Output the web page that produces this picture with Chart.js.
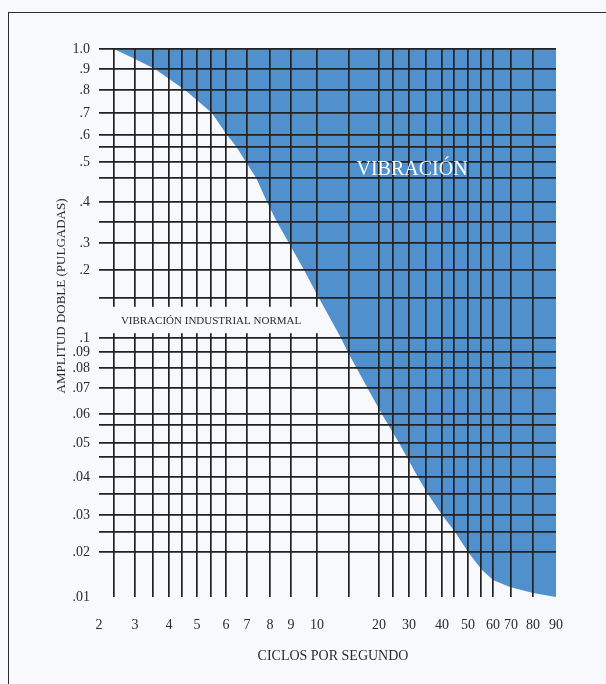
<!DOCTYPE html>
<html lang="es">
<head>
<meta charset="utf-8">
<script src="https://cdn.jsdelivr.net/npm/chart.js@4/dist/chart.umd.min.js"></script>
<style>
  html, body { margin: 0; padding: 0; background: #f8f9fc; overflow: hidden; }
  #marco { position: absolute; left: 8px; top: 12px; width: 700px; height: 800px; border: 1.5px solid #2d2d2d; }
  #caja { position: absolute; left: 0; top: 0; width: 606px; height: 684px; }
</style>
</head>
<body>
<div id="marco"></div>
<div id="caja"><canvas id="grafico"></canvas></div>
<script>
// borde de la zona de vibración (ciclos por segundo / amplitud doble en pulgadas)
const ciclos = [2.5, 3, 3.56, 4.6, 5.53, 6.05, 6.5, 6.95, 7.4, 7.87, 8.33, 8.9, 9.5, 10.3, 13.75, 14.8, 21, 26.9, 32.6, 35.6, 40, 45.4, 50, 55.4, 60, 69.4, 80, 90];
const amplitud = [1.0, 0.95, 0.9, 0.8, 0.7, 0.6, 0.55, 0.5, 0.45, 0.4, 0.35, 0.3, 0.2, 0.15, 0.1, 0.09, 0.06, 0.05, 0.04, 0.035, 0.03, 0.025, 0.02, 0.016, 0.0138, 0.0122, 0.0109, 0.01];

// líneas de la rejilla y las que llevan número
const lineasX = [2, 2.5, 3, 3.5, 4, 4.5, 5, 5.5, 6, 7, 8, 9, 10, 15, 20, 25, 30, 35, 40, 45, 50, 55, 60, 70, 80, 90];
const etiquetasX = [2, 3, 4, 5, 6, 7, 8, 9, 10, 20, 30, 40, 50, 60, 70, 80, 90];
const lineasY = [0.01, 0.02, 0.025, 0.03, 0.035, 0.04, 0.045, 0.05, 0.055, 0.06, 0.07, 0.08, 0.09, 0.1, 0.15, 0.2, 0.3, 0.35, 0.4, 0.45, 0.5, 0.55, 0.6, 0.7, 0.8, 0.9, 1.0];
const etiquetasY = [0.01, 0.02, 0.03, 0.04, 0.05, 0.06, 0.07, 0.08, 0.09, 0.1, 0.2, 0.3, 0.4, 0.5, 0.6, 0.7, 0.8, 0.9, 1.0];

// separación de las líneas en el papel impreso (no es logarítmica exacta)
const separacion = {
    x: [0, 15, 36, 54, 70, 83, 98, 112, 127, 148, 171, 192, 218, 250, 280, 294, 310, 327, 343, 355, 369, 382, 394, 412, 434, 457],
    y: [0, 45, 65, 82, 103, 120, 140, 154, 172, 183, 209, 229, 245, 259, 299, 327, 354, 375, 395, 419, 435, 450, 462, 484, 507, 528, 548]
};
const lineas = { x: lineasX, y: lineasY };

class EscalaRejilla extends Chart.LinearScale {
    static id = "rejilla";
    static defaults = Chart.LinearScale.defaults;

    fraccion(v) {
        const vals = lineas[this.axis], pos = separacion[this.axis];
        const total = pos[pos.length - 1];
        if (v <= vals[0]) return 0;
        for (let i = 1; i < vals.length; i++) {
            if (v <= vals[i]) {
                const t = (v - vals[i - 1]) / (vals[i] - vals[i - 1]);
                return (pos[i - 1] + t * (pos[i] - pos[i - 1])) / total;
            }
        }
        return 1;
    }

    getPixelForValue(value) {
        if (value === null || isNaN(value)) return NaN;
        return this.getPixelForDecimal(this.fraccion(value));
    }

    getValueForPixel(pixel) {
        const d = this.getDecimalForPixel(pixel);
        const vals = lineas[this.axis], pos = separacion[this.axis];
        const p = d * pos[pos.length - 1];
        for (let i = 1; i < pos.length; i++) {
            if (p <= pos[i]) {
                const t = (p - pos[i - 1]) / (pos[i] - pos[i - 1]);
                return vals[i - 1] + t * (vals[i] - vals[i - 1]);
            }
        }
        return vals[vals.length - 1];
    }
}
Chart.register(EscalaRejilla);

const tinta = "#222222";
const fuente = "\"Liberation Serif\", serif";

const rotulos = {
    id: "rotulos",
    afterDraw(chart) {
        const { ctx, scales: { x, y } } = chart;
        ctx.save();

        // recuadro de vibración normal
        const bx0 = x.getPixelForValue(2.43), bx1 = x.getPixelForValue(10.47);
        const by0 = y.getPixelForValue(0.139), by1 = y.getPixelForValue(0.106);
        ctx.fillStyle = "#f8f9fc";
        ctx.fillRect(bx0, by0, bx1 - bx0, by1 - by0);
        ctx.fillStyle = "#2b2b2b";
        ctx.font = "11px " + fuente;
        ctx.textAlign = "left";
        ctx.textBaseline = "middle";
        ctx.fillText("VIBRACIÓN INDUSTRIAL NORMAL", bx0 + 9, (by0 + by1) / 2 + 1);

        ctx.fillStyle = "#ffffff";
        ctx.font = "20px " + fuente;
        ctx.textAlign = "center";
        ctx.fillText("VIBRACIÓN", x.getPixelForValue(30.9), y.getPixelForValue(0.475));

        // títulos de los ejes
        ctx.fillStyle = "#2b2b2b";
        ctx.font = "14px " + fuente;
        ctx.fillText("CICLOS POR SEGUNDO", 333, 656);
        ctx.translate(62, 296);
        ctx.rotate(-Math.PI / 2);
        ctx.font = "13px " + fuente;
        ctx.fillText("AMPLITUD DOBLE (PULGADAS)", 0, 0);
        ctx.restore();
    }
};

const oculta = v => v === 2 || v === 90 || v === 0.01;

new Chart(document.getElementById("grafico"), {
    type: "line",
    data: {
        datasets: [{
            label: "Vibración",
            data: ciclos.map((c, i) => ({ x: c, y: amplitud[i] })),
            backgroundColor: "#5090cd",
            borderWidth: 0,
            pointRadius: 0,
            tension: 0,
            fill: "end"
        }]
    },
    options: {
        responsive: true,
        maintainAspectRatio: false,
        animation: false,
        events: [],
        layout: { padding: { left: 59, right: 50, top: 49, bottom: 27 } },
        plugins: { legend: { display: false }, tooltip: { enabled: false } },
        scales: {
            x: {
                type: "rejilla",
                min: 2,
                max: 90,
                afterBuildTicks: s => { s.ticks = lineasX.map(v => ({ value: v })); },
                afterFit: s => { s.height = 60; },
                border: { display: false },
                grid: {
                    z: 1,
                    drawTicks: false,
                    lineWidth: 1.7,
                    color: c => (c.tick && oculta(c.tick.value)) ? "rgba(0,0,0,0)" : tinta
                },
                ticks: {
                    autoSkip: false,
                    maxRotation: 0,
                    padding: 20,
                    color: "#2b2b2b",
                    font: { family: fuente, size: 14 },
                    callback: v => etiquetasX.includes(v) ? String(v) : ""
                }
            },
            y: {
                type: "rejilla",
                min: 0.01,
                max: 1.0,
                afterBuildTicks: s => { s.ticks = lineasY.map(v => ({ value: v })); },
                afterFit: s => { s.width = 40; },
                border: { display: false },
                grid: {
                    z: 1,
                    drawTicks: false,
                    lineWidth: 1.7,
                    color: c => (c.tick && oculta(c.tick.value)) ? "rgba(0,0,0,0)" : tinta
                },
                ticks: {
                    autoSkip: false,
                    padding: 9,
                    color: "#2b2b2b",
                    font: { family: fuente, size: 14 },
                    callback: v => etiquetasY.includes(v) ? (v === 1 ? "1.0" : String(v).replace("0.", ".")) : ""
                }
            }
        }
    },
    plugins: [rotulos]
});
</script>
</body>
</html>
